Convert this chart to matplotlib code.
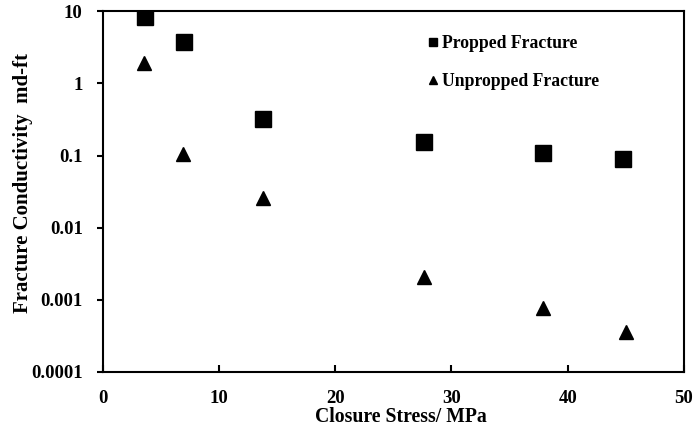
import numpy as np
import matplotlib
matplotlib.use('Agg')
import matplotlib.pyplot as plt
from matplotlib.ticker import FixedLocator, NullLocator, FuncFormatter

# closure stress (MPa) vs conductivity (md-ft)
propped_stress = [3.6, 7.0, 13.8, 27.6, 37.9, 44.8]
propped_cond = [8.3, 3.8, 0.32, 0.155, 0.107, 0.089]

unpropped_stress = [3.5, 6.9, 13.8, 27.6, 37.9, 45.0]
unpropped_cond = [1.9, 0.105, 0.0255, 0.00205, 0.00076, 0.000355]

y_ticks = [0.0001, 0.001, 0.01, 0.1, 1, 10]
x_ticks = [0, 10, 20, 30, 40, 50]

plt.rcParams['font.family'] = ['Liberation Serif', 'DejaVu Serif']
plt.rcParams['font.weight'] = 'bold'
plt.rcParams['font.size'] = 13

fig = plt.figure(figsize=(6.95, 4.34), dpi=100)
ax = fig.add_axes([0.148, 0.143, 0.836, 0.831])

ax.plot(propped_stress, propped_cond, 's', color='black', markersize=11.5, label='Propped Fracture')
ax.plot(unpropped_stress, unpropped_cond, '^', color='black', markersize=10.5, label='Unpropped Fracture')

ax.set_yscale('log')
ax.set_xlim(0, 50)
ax.set_ylim(0.0001, 10)
ax.xaxis.set_major_locator(FixedLocator(x_ticks))
ax.yaxis.set_major_locator(FixedLocator(y_ticks))
ax.yaxis.set_minor_locator(NullLocator())
ax.yaxis.set_major_formatter(FuncFormatter(lambda v, p: '%g' % v))

for s in ax.spines.values():
	s.set_linewidth(1.5)
ax.tick_params(axis='x', direction='in', length=5, width=1.5, pad=13, labelsize=13.5)
ax.tick_params(axis='y', direction='out', length=4, width=1.5, pad=10.5, labelsize=13.5)

ax.set_xlabel('Closure Stress/ MPa', fontweight='bold', fontsize=14.2)
ax.xaxis.set_label_coords(0.513, -0.098)
ax.set_ylabel('Fracture Conductivity  md-ft', fontweight='bold', fontsize=15)
ax.yaxis.set_label_coords(-0.121, 0.524)

ax.legend(loc='upper left', bbox_to_anchor=(0.528, 0.978), frameon=False, fontsize=12.7,
	markerscale=0.55, handlelength=0.8, handletextpad=0.15, labelspacing=1.2)

fig.savefig('out.png', dpi=100)
